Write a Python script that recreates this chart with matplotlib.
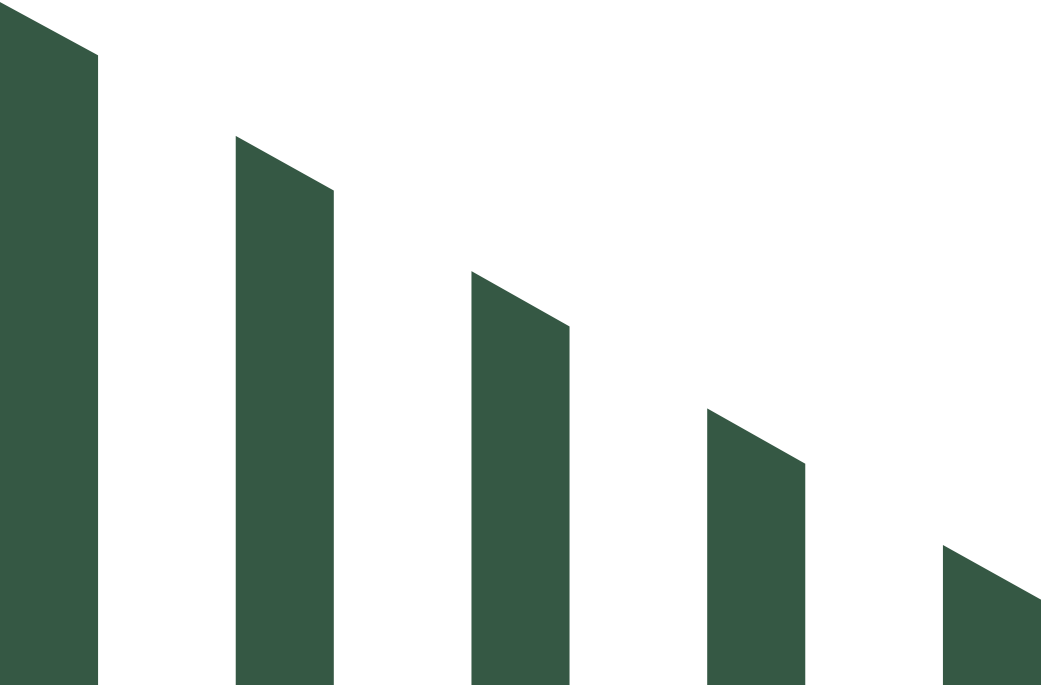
import matplotlib.pyplot as plt

# Bar data: height at left edge and right edge of each slanted bar
categories = ["A", "B", "C", "D", "E"]
left_values = [100.0, 80.4, 60.6, 40.5, 20.5]
right_values = [92.2, 72.4, 52.5, 32.4, 12.5]

bar_color = "#355844"
bar_width = 0.416

fig = plt.figure(figsize=(10.41, 6.85), dpi=100)
ax = fig.add_axes([0, 0, 1, 1])

for i, (hl, hr) in enumerate(zip(left_values, right_values)):
    x0 = i - bar_width / 2
    x1 = i + bar_width / 2
    ax.fill([x0, x0, x1, x1], [0, hl, hr, 0], color=bar_color, linewidth=0)

ax.set_xlim(-bar_width / 2, len(categories) - 1 + bar_width / 2)
ax.set_ylim(0, 100.3)
ax.axis("off")

fig.savefig("out.png", dpi=100)
